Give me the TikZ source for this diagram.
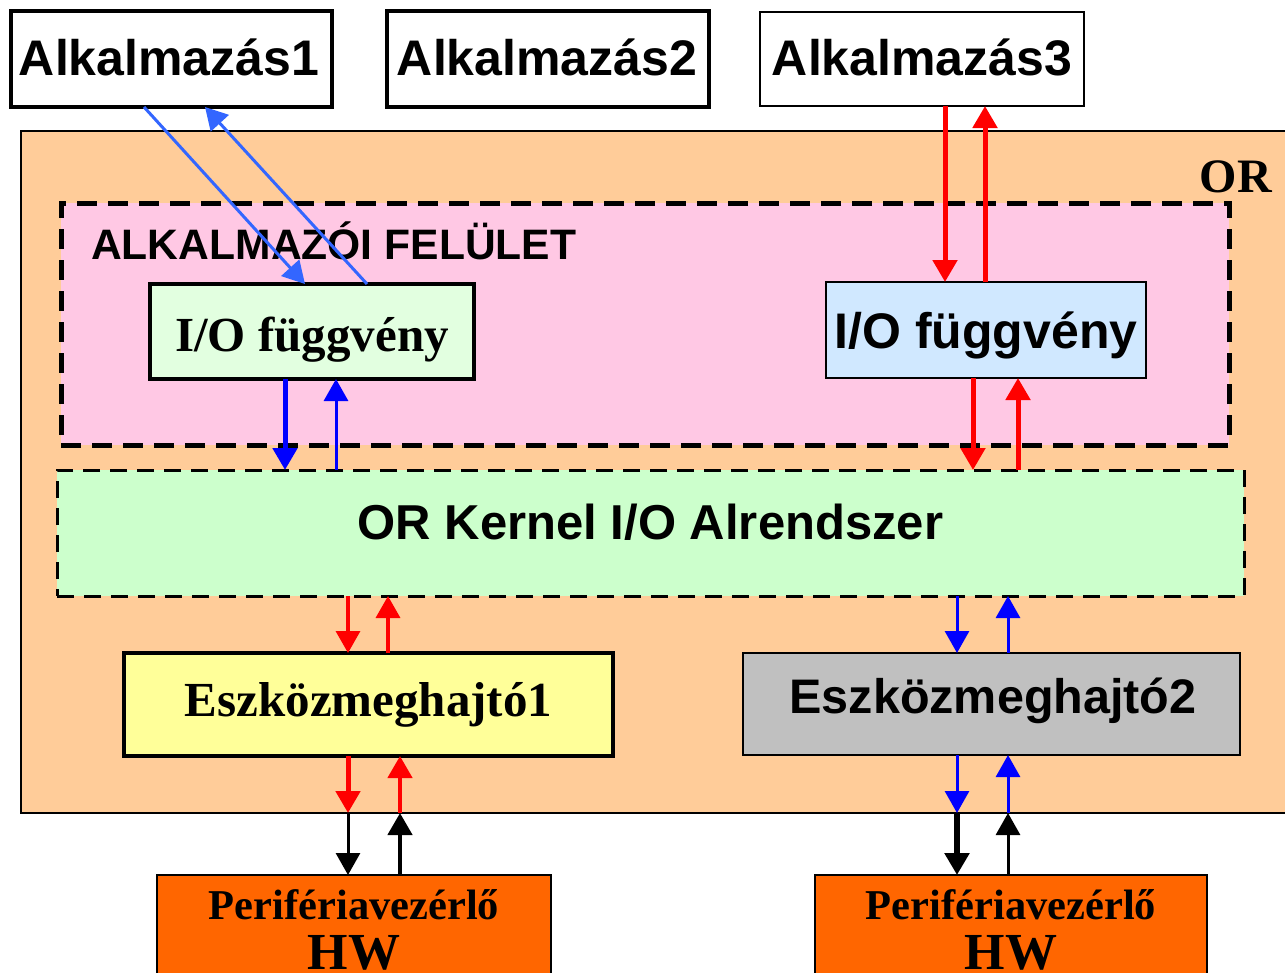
\documentclass[tikz,border=0pt]{standalone}
\usepackage{fontspec}
\setmainfont{Liberation Serif}
\newfontfamily\arial{Liberation Sans}
\usetikzlibrary{arrows.meta,calc}

\definecolor{peach}{HTML}{FFCC99}
\definecolor{pinkbg}{HTML}{FFC8E4}
\definecolor{mintbg}{HTML}{E2FFE0}
\definecolor{kernbg}{HTML}{CCFFCC}
\definecolor{skybg}{HTML}{D0E8FF}
\definecolor{yellowbg}{HTML}{FFFF99}
\definecolor{greybg}{HTML}{C0C0C0}
\definecolor{hworange}{HTML}{FF6600}
\definecolor{lightblue}{HTML}{3366FF}
\definecolor{pureblue}{HTML}{0000FF}
\definecolor{purered}{HTML}{FF0000}

\begin{document}
\begin{tikzpicture}[x=1pt,y=-1pt,
  box/.style={draw=black, rectangle, inner sep=0pt, outer sep=0pt},
  thickbox/.style={box, line width=4pt},
  thinbox/.style={box, line width=2pt},
  sanslbl/.style={font=\arial\bfseries\fontsize{50}{54}\selectfont},
  seriflbl/.style={font=\bfseries\fontsize{49}{53}\selectfont},
  flow/.style={-{Triangle[width=24pt,length=22pt]}},
  bluediag/.style={flow, draw=lightblue, line width=3pt},
  redflow/.style={flow, draw=purered},
  blueflow/.style={flow, draw=pureblue},
  blackflow/.style={flow, draw=black},
]
\useasboundingbox (0,0) rectangle (1285,972);
\clip (0,0) rectangle (1285,972);
\fill[white] (0,0) rectangle (1285,972);

% operating system frame
\node[thinbox, fill=peach, minimum width=1279pt, minimum height=682pt] (os) at (660.5,472) {};
\node[anchor=base east, font=\bfseries\fontsize{48}{52}\selectfont, inner sep=0pt] (orlbl) at (1272,192) {OR};

% application interface layer
\node[box, line width=5pt, dash pattern=on 20pt off 11pt, fill=pinkbg,
      minimum width=1168pt, minimum height=242pt] (felulet) at (645,324) {};
\node[anchor=base west, inner sep=0pt, font=\arial\bfseries\fontsize{42.6}{46}\selectfont] (fellbl) at (91,259) {ALKALMAZÓI FELÜLET};

% applications
\node[thickbox, fill=white, minimum width=321pt, minimum height=96pt] (app1) at (171.5,59) {};
\node[thickbox, fill=white, minimum width=322pt, minimum height=96pt] (app2) at (548,59) {};
\node[thinbox, fill=white, minimum width=324pt, minimum height=94pt] (app3) at (922,59) {};
\node[sanslbl, inner sep=0pt] (app1t) at (169,57) {Alkalmazás1};
\node[sanslbl, inner sep=0pt] (app2t) at (547,57) {Alkalmazás2};
\node[sanslbl, inner sep=0pt] (app3t) at (922,57) {Alkalmazás3};

% I/O functions
\node[thickbox, fill=mintbg, minimum width=324pt, minimum height=95pt] (io1) at (312,331.5) {};
\node[seriflbl, inner sep=0pt] (io1t) at (312,340) {I/O függvény};
\node[thinbox, fill=skybg, minimum width=320pt, minimum height=96pt] (io2) at (986,330) {};
\node[sanslbl, inner sep=0pt] (io2t) at (986,335) {I/O függvény};

% kernel I/O subsystem
\node[box, line width=3pt, dash pattern=on 17pt off 10pt, fill=kernbg,
      minimum width=1187pt, minimum height=126pt] (kern) at (650.5,533) {};
\node[font=\arial\bfseries\fontsize{49}{53}\selectfont, inner sep=0pt] (kernlbl) at (650.5,522) {OR Kernel I/O Alrendszer};

% device drivers
\node[thickbox, fill=yellowbg, minimum width=489pt, minimum height=103pt, seriflbl] (esz1) at (368.5,704.5) {Eszközmeghajtó1};
\node[thinbox, fill=greybg, minimum width=497pt, minimum height=102pt] (esz2) at (991.5,704) {};
\node[font=\arial\bfseries\fontsize{48.5}{52}\selectfont, inner sep=0pt] (esz2t) at (993,701) {Eszközmeghajtó2};

% peripheral controllers
\node[thinbox, fill=hworange, minimum width=394pt, minimum height=125pt] (hw1) at (354,937.5) {};
\node[thinbox, fill=hworange, minimum width=392pt, minimum height=125pt] (hw2) at (1011,937.5) {};
\node[anchor=base, inner sep=0pt, font=\bfseries\fontsize{42.5}{46}\selectfont] (hw1a) at (354,919) {Perifériavezérlő};
\node[anchor=base, inner sep=0pt, font=\bfseries\fontsize{52}{56}\selectfont] (hw1b) at (354,969) {HW};
\node[anchor=base, inner sep=0pt, font=\bfseries\fontsize{42.5}{46}\selectfont] (hw2a) at (1011,919) {Perifériavezérlő};
\node[anchor=base, inner sep=0pt, font=\bfseries\fontsize{52}{56}\selectfont] (hw2b) at (1011,969) {HW};

% Alkalmazás1 <-> I/O függvény
\draw[bluediag] (144,0 |- app1.south) -- (305,0 |- io1.north);
\draw[bluediag] (367,0 |- io1.north) -- (205,0 |- app1.south);

% Alkalmazás3 <-> I/O függvény
\draw[redflow, line width=5pt] (945,0 |- app3.south) -- (945,0 |- io2.north);
\draw[redflow, line width=5pt] (985,0 |- io2.north) -- (985,0 |- app3.south);

% I/O functions <-> kernel
\draw[blueflow, line width=5pt] (285,0 |- io1.south) -- (285,0 |- kern.north);
\draw[blueflow, line width=3pt] (336,0 |- kern.north) -- (336,0 |- io1.south);
\draw[redflow, line width=5pt] (973,0 |- io2.south) -- (973,0 |- kern.north);
\draw[redflow, line width=5pt] (1018,0 |- kern.north) -- (1018,0 |- io2.south);

% kernel <-> drivers
\draw[redflow, line width=3.5pt] (348,0 |- kern.south) -- (348,0 |- esz1.north);
\draw[redflow, line width=3.5pt] (388,0 |- esz1.north) -- (388,0 |- kern.south);
\draw[blueflow, line width=3pt] (957,0 |- kern.south) -- (957,0 |- esz2.north);
\draw[blueflow, line width=3pt] (1008,0 |- esz2.north) -- (1008,0 |- kern.south);

% drivers <-> OS boundary <-> hardware
\coordinate (d1) at (348,0 |- os.south);
\coordinate (u1) at (400,0 |- os.south);
\coordinate (d2) at (957,0 |- os.south);
\coordinate (u2) at (1008,0 |- os.south);

\draw[redflow, line width=5pt] (348,0 |- esz1.south) -- (d1);
\draw[blackflow, line width=3pt] (d1) -- (348,0 |- hw1.north);
\draw[blackflow, line width=4.5pt] (400,0 |- hw1.north) -- (u1);
\draw[redflow, line width=4.5pt] (u1) -- (400,0 |- esz1.south);

\draw[blueflow, line width=3pt] (957,0 |- esz2.south) -- (d2);
\draw[blackflow, line width=6pt] (d2) -- (957,0 |- hw2.north);
\draw[blackflow, line width=3pt] (1008,0 |- hw2.north) -- (u2);
\draw[blueflow, line width=3pt] (u2) -- (1008,0 |- esz2.south);
\end{tikzpicture}
\end{document}
